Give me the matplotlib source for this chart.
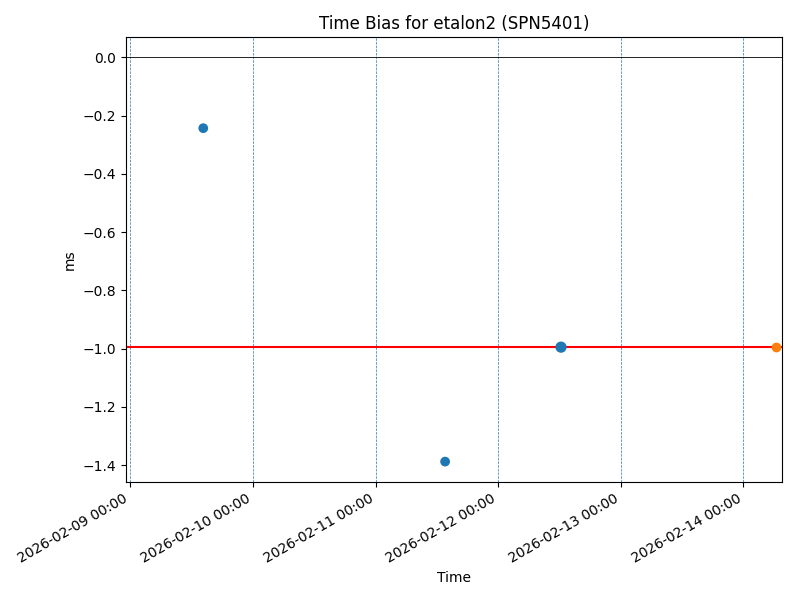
import matplotlib
matplotlib.use("Agg")
import matplotlib.pyplot as plt
import matplotlib.dates as mdates
import pandas as pd

# observations (ms)
obs_times = pd.to_datetime(["2026-02-09 14:17", "2026-02-11 13:37", "2026-02-12 12:18"])
obs_bias = [-0.243, -1.388, -0.995]
obs_sizes = [36, 36, 50]

# latest value
last_time = pd.to_datetime(["2026-02-14 06:21"])
last_bias = [-0.995]

reference_bias = -0.995
day_marks = pd.date_range("2026-02-09", "2026-02-14", freq="D")
x_limits = pd.to_datetime(["2026-02-08 23:05", "2026-02-14 07:38"])

fig, ax = plt.subplots(figsize=(8, 6), dpi=100)

for d in day_marks:
    ax.axvline(d, color="C0", linestyle="--", linewidth=0.5)
ax.axhline(0, color="black", linewidth=0.6)
ax.axhline(reference_bias, color="red", linewidth=1.5)

ax.scatter(obs_times, obs_bias, color="C0", s=obs_sizes, zorder=3)
ax.scatter(last_time, last_bias, color="C1", s=36, zorder=3)

ax.set_xlim(x_limits[0], x_limits[1])
ax.xaxis.set_major_locator(mdates.DayLocator())
ax.xaxis.set_major_formatter(mdates.DateFormatter("%Y-%m-%d %H:%M"))
ax.set_title("Time Bias for etalon2 (SPN5401)")
ax.set_xlabel("Time")
ax.set_ylabel("ms")
fig.autofmt_xdate()
fig.subplots_adjust(left=0.157, right=0.978, top=0.938, bottom=0.197)
fig.savefig("out.png")
plt.close()
